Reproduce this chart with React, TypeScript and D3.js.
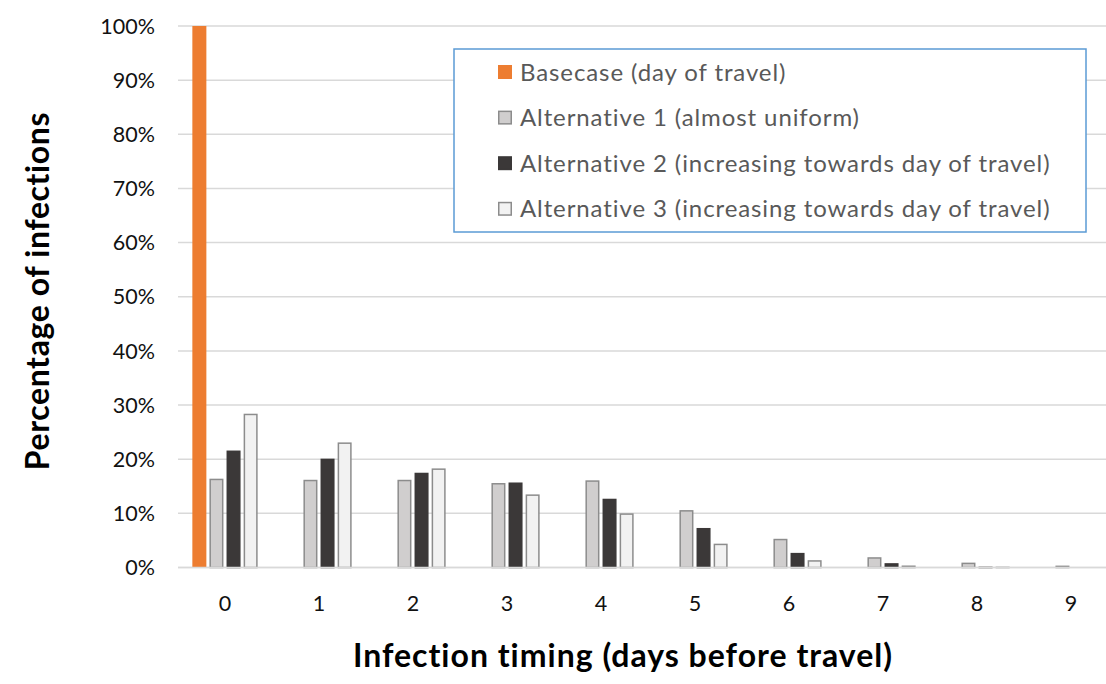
import React from "react";
import * as d3 from "d3";

const categories = ["0", "1", "2", "3", "4", "5", "6", "7", "8", "9"];
const seriesNames = [
  "Basecase (day of travel)",
  "Alternative 1 (almost uniform)",
  "Alternative 2 (increasing towards day of travel)",
  "Alternative 3 (increasing towards day of travel)",
];
const basecase = [100, 0, 0, 0, 0, 0, 0, 0, 0, 0];
const alt1 = [16.4, 16.2, 16.2, 15.6, 16.1, 10.6, 5.3, 1.9, 0.9, 0.35];
const alt2 = [21.6, 20.1, 17.5, 15.7, 12.7, 7.3, 2.7, 0.8, 0.15, 0.05];
const alt3 = [28.4, 23.1, 18.3, 13.5, 10.0, 4.4, 1.35, 0.37, 0.15, 0.1];
const yTicks = [0, 10, 20, 30, 40, 50, 60, 70, 80, 90, 100];

const seriesValues = [basecase, alt1, alt2, alt3];
const fills = ["#ED7D31", "#D0CECE", "#3B3838", "#F2F2F2"];
const strokes = ["none", "#8C8C8C", "#3B3838", "#8C8C8C"];

const FONT = "Lato, 'Open Sans', sans-serif";

export default function App() {
  const x0 = d3.scaleBand<string>().domain(categories).range([178, 1118]).padding(0);
  const groupW = 65.3;
  const x1 = d3
    .scaleBand<number>()
    .domain([0, 1, 2, 3])
    .range([0, groupW])
    .paddingInner(0.18);
  const y = d3.scaleLinear().domain([0, 100]).range([567.5, 26]);
  const off = (x0.bandwidth() - groupW) / 2;

  return (
    <svg
      width={1106}
      height={684}
      style={{ position: "absolute", left: 0, top: 0, background: "#fff" }}
      fontFamily={FONT}
    >
      <rect x={0} y={0} width={1106} height={684} fill="#fff" />
      {yTicks.map((t) => (
        <g key={t}>
          <line
            x1={178}
            x2={1118}
            y1={y(t)}
            y2={y(t)}
            stroke="#D9D9D9"
            strokeWidth={1.5}
          />
          <text
            x={155}
            y={y(t)}
            dy="0.36em"
            textAnchor="end"
            fontSize={21.5}
            fill="#111"
          >
            {t}%
          </text>
        </g>
      ))}
      {seriesValues.map((vals, si) =>
        vals.map((v, ci) => {
          const sw = strokes[si] === "none" ? 0 : 1.5;
          const bx = x0(categories[ci])! + off + x1(si)!;
          const top = y(v);
          const h = y(0) - top;
          if (h <= 0) return null;
          return (
            <rect
              key={`${si}-${ci}`}
              x={bx + sw / 2}
              y={top + sw / 2}
              width={Math.max(0, x1.bandwidth() - sw)}
              height={Math.max(0, h - sw / 2)}
              fill={fills[si]}
              stroke={strokes[si]}
              strokeWidth={sw}
            />
          );
        })
      )}
      <line x1={178} x2={1118} y1={y(0)} y2={y(0)} stroke="#D9D9D9" strokeWidth={1.5} />
      {categories.map((c) => (
        <text
          key={c}
          x={x0(c)! + x0.bandwidth() / 2}
          y={603}
          dy="0.36em"
          textAnchor="middle"
          fontSize={21.5}
          fill="#111"
        >
          {c}
        </text>
      ))}
      {/* Legend */}
      <rect x={454} y={49} width={632} height={183} fill="#fff" stroke="#5B9BD5" strokeWidth={1.5} />
      {seriesNames.map((name, i) => {
        const cy = 72 + i * 45.6;
        const sw = strokes[i] === "none" ? 0 : 1.5;
        return (
          <g key={name}>
            <rect
              x={498 + sw / 2}
              y={cy - 7 + sw / 2}
              width={14 - sw}
              height={14 - sw}
              fill={fills[i]}
              stroke={strokes[i]}
              strokeWidth={sw}
            />
            <text
              x={520}
              y={cy}
              dy="0.36em"
              fontSize={24}
              letterSpacing={0.9}
              fill="#595959"
            >
              {name}
            </text>
          </g>
        );
      })}
      <text
        x={623}
        y={667}
        textAnchor="middle"
        fontSize={32}
        letterSpacing={1}
        fontWeight="bold"
        fill="#000"
      >
        Infection timing (days before travel)
      </text>
      <text
        transform="translate(49,291) rotate(-90)"
        textAnchor="middle"
        fontSize={32}
        letterSpacing={0.6}
        fontWeight="bold"
        fill="#000"
      >
        Percentage of infections
      </text>
    </svg>
  );
}
